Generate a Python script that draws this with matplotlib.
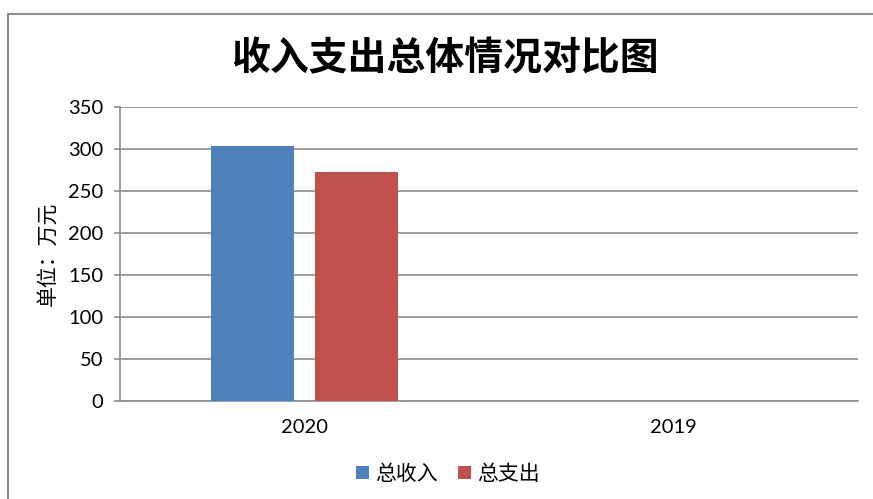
import matplotlib.pyplot as plt
import numpy as np
from matplotlib.patches import Rectangle

# 数据
years = ['2020', '2019']
income = [303, 0]
expense = [273, 0]
series_names = ['总收入', '总支出']
yticks = [0, 50, 100, 150, 200, 250, 300, 350]

cjk = ['Noto Sans CJK SC', 'DejaVu Sans']

fig = plt.figure(figsize=(8.73, 4.99), dpi=100)
ax = fig.add_axes([120 / 873, 1 - 401 / 499, 738 / 873, 294 / 499])

x = np.arange(len(years))
w = 0.225
ax.bar(x - 0.142, income, w, color='#4F81BD', label=series_names[0], zorder=3)
ax.bar(x + 0.142, expense, w, color='#C0504D', label=series_names[1], zorder=3)

ax.set_xlim(-0.5, 1.5)
ax.set_ylim(0, 350)
ax.set_yticks(yticks)
ax.set_xticks(x)
ax.set_xticklabels(years)
ax.yaxis.grid(True, color='#8c8c8c', linewidth=1.2, zorder=0)
ax.set_axisbelow(True)

for s in ['top', 'right']:
    ax.spines[s].set_visible(False)
for s in ['left', 'bottom']:
    ax.spines[s].set_color('#8c8c8c')
    ax.spines[s].set_linewidth(1.2)

ax.tick_params(axis='y', length=4, color='#8c8c8c', width=1.2, pad=8,
               labelsize=14.5, labelfontfamily='Lato')
ax.tick_params(axis='x', length=0, pad=13, labelsize=14.5, labelfontfamily='Lato')

ax.set_ylabel('单位：万元', family=cjk, fontsize=15, labelpad=7)

fig.text(445 / 873, 1 - 59 / 499, '收入支出总体情况对比图', family=cjk,
         fontsize=28, fontweight='bold', ha='center', va='center')

leg = fig.legend(loc='center', bbox_to_anchor=(448 / 873, 1 - 474 / 499),
                 ncol=2, frameon=False, prop={'family': cjk, 'size': 15},
                 handlelength=0.6, handleheight=0.6, handletextpad=0.3,
                 columnspacing=1.0)

# 外框
fig.patches.append(Rectangle((8 / 873, -0.1), 1.2, 1 - 14 / 499 + 0.1,
                             transform=fig.transFigure, fill=False,
                             edgecolor='#8c8c8c', linewidth=1.5))

fig.savefig('out.png', dpi=100, facecolor='white')
